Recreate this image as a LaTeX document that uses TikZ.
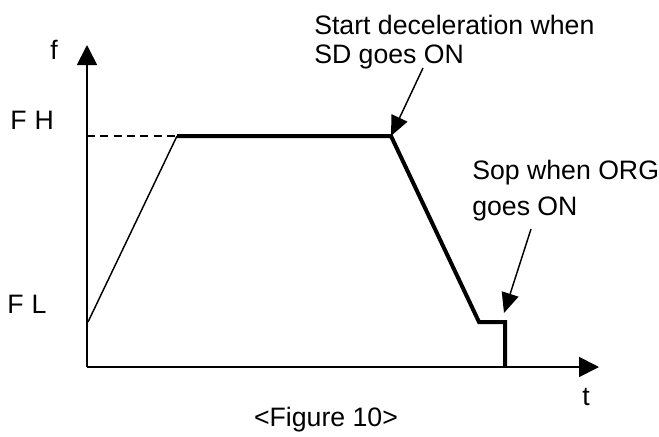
\documentclass[tikz,border=0pt]{standalone}
\usepackage{fontspec}
\setmainfont{Liberation Sans}
\usetikzlibrary{arrows.meta}
\tikzset{
  axis/.style={line width=1.3pt,-{Triangle[length=15pt,width=15pt]}},
  speed/.style={line width=3pt},
  ramp/.style={line width=1.1pt},
  pointer/.style={line width=1.1pt,-{Triangle[length=15pt,width=13pt]}},
  lbl/.style={inner sep=0pt,font=\fontsize{20}{22}\selectfont}
}
\begin{document}
\begin{tikzpicture}[x=0.75pt,y=-0.75pt]
                \useasboundingbox (0,0) rectangle (659,436);
                \coordinate (o) at (87,367);
                \coordinate (ytip) at (87,45);
                \coordinate (xtip) at (599,367);
                \coordinate (fl) at (88,322);
                \coordinate (fh) at (87,136);
                \coordinate (a) at (177,136);
                \coordinate (b) at (391,136);
                \coordinate (c) at (479,322);
                \coordinate (d) at (505,322);
                \coordinate (e) at (505,367);
                \coordinate (sdtail) at (423,68);
                \coordinate (orgtail) at (531,229);
                \coordinate (orgtip) at (504,313);
                \draw[axis] (o) -- (ytip);
                \draw[axis] (o) -- (xtip);
                \draw[line width=0.9pt,dash pattern=on 6pt off 4pt] (fh) -- (a);
                \draw[ramp] (fl) -- (a);
                \draw[speed] (a) -- (b) -- (c) -- (d) -- (e);
                \draw[pointer] (sdtail) -- (b);
                \draw[pointer] (orgtail) -- (orgtip);
                \node[lbl,anchor=base west] (f) at (50,59) {f};
                \node[lbl,anchor=base west] (fhlabel) at (10,129) {F\hspace{0.3em}H};
                \node[lbl,anchor=base west] (fllabel) at (7,313) {F\hspace{0.3em}L};
                \node[lbl,anchor=base west] (t) at (582,405) {t};
                \node[lbl,anchor=base] (caption) at (326,426) {<Figure 10>};
                \node[lbl,anchor=north west,align=left] (sd) at (314,15) {Start deceleration when\\SD goes ON};
                \node[lbl,anchor=north west,align=left,font=\fontsize{20}{27}\selectfont] (org) at (472,160) {Sop when ORG\\goes ON};
            \end{tikzpicture}
\end{document}
